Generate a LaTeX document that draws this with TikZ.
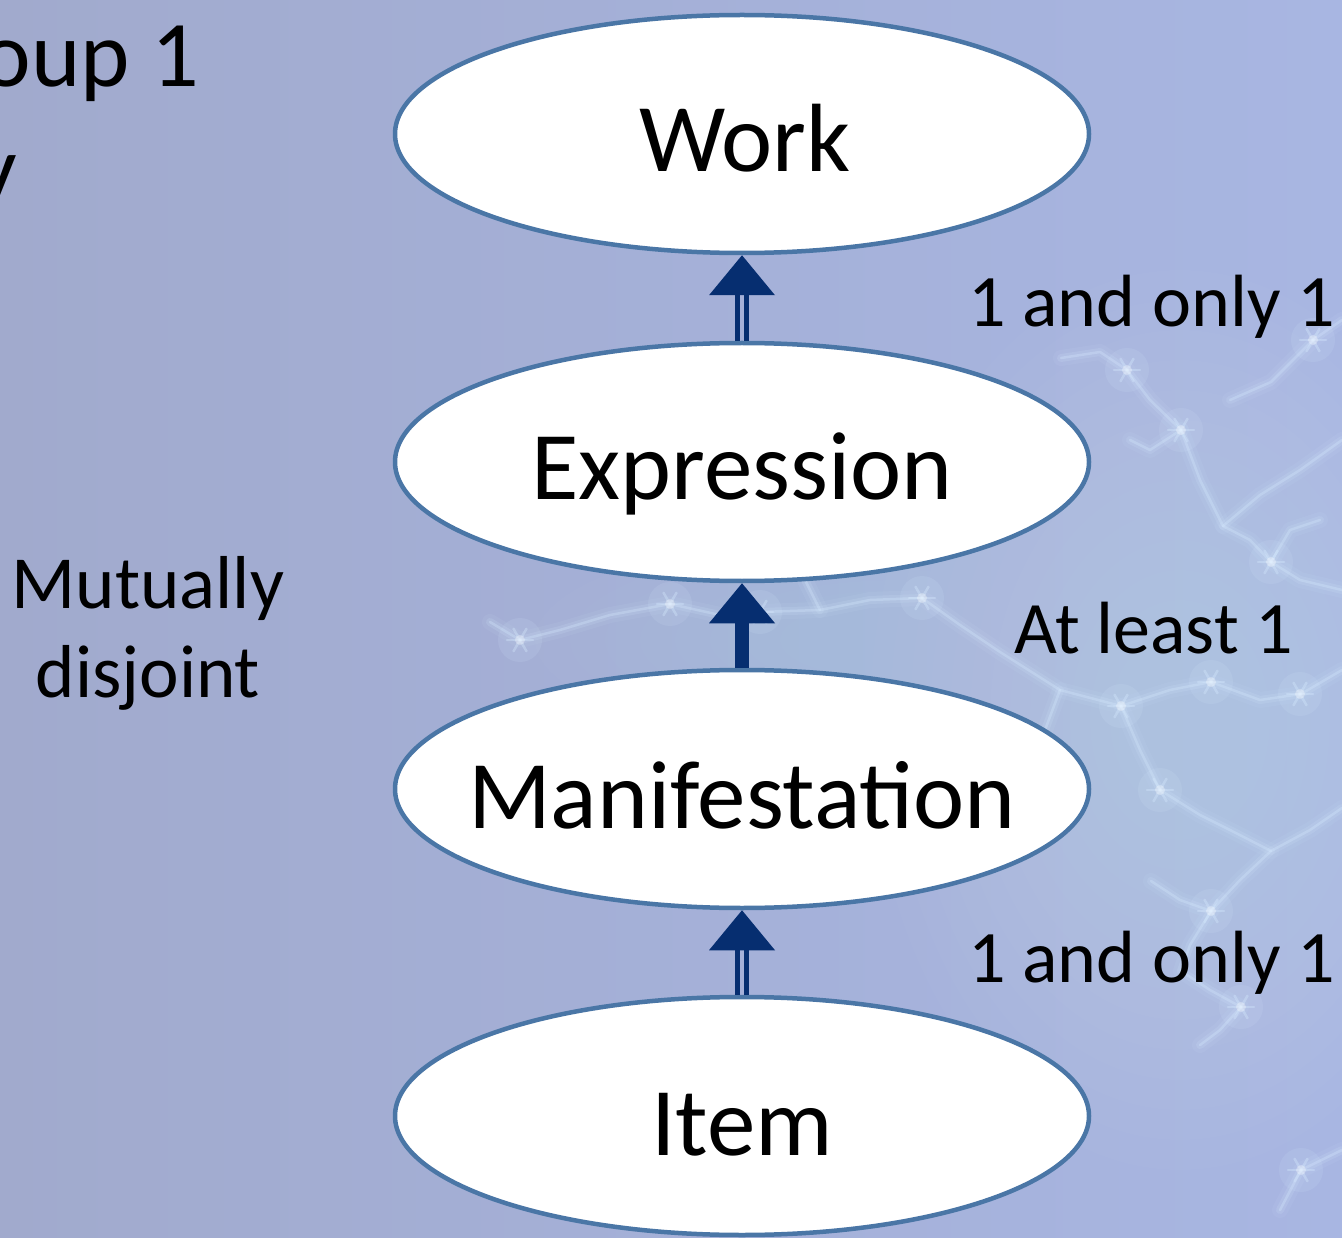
\documentclass[tikz,border=0pt]{standalone}
\usepackage{fontspec}
\setmainfont{Carlito}
\definecolor{bgA}{RGB}{161,170,205}
\definecolor{bgB}{RGB}{168,182,226}
\definecolor{edgeblue}{RGB}{74,118,166}
\definecolor{navy}{RGB}{6,46,112}
\definecolor{frost}{RGB}{215,235,255}
\usetikzlibrary{shapes.geometric}
\tikzset{
  entity/.style={draw=edgeblue, line width=4.5pt, fill=white, ellipse, minimum width=694pt, minimum height=238pt, inner sep=0pt},
  etext/.style={font=\fontsize{97}{116}\selectfont, anchor=base},
  lbl/.style={font=\fontsize{74}{89}\selectfont, anchor=base west, inner sep=0pt},
  branchA/.style={draw=frost, line width=16pt, opacity=0.07, line cap=round, line join=round},
  branchB/.style={draw=frost, line width=8pt, opacity=0.14, line cap=round, line join=round},
  branchC/.style={draw=frost, line width=2.5pt, opacity=0.30, line cap=round, line join=round},
  headtri/.style={fill=navy, draw=none},
  shaft/.style={fill=navy, draw=none}
}
\begin{document}
\begin{tikzpicture}[x=1pt,y=-1pt]
\useasboundingbox (0,0) rectangle (1342,1238);
\clip (0,0) rectangle (1342,1238);
% background
\shade[left color=bgA, right color=bgB] (0,0) rectangle (1342,1238);
\foreach \k in {1,...,14}{
  \fill[frost, opacity=0.022] (1180,720) ellipse ({330-20*\k} and {480-30*\k});
}
\foreach \k in {1,...,10}{
  \fill[frost, opacity=0.018] (900,640) ellipse ({400-35*\k} and {120-10*\k});
}
% fractal-like frost branches
\foreach \s in {branchA,branchB,branchC}{
  \draw[\s] (1061,358) -- (1100,352) -- (1127,370) -- (1150,400) -- (1181,430) -- (1200,480) -- (1223,526) -- (1250,540) -- (1271,562) -- (1300,580) -- (1342,590);
  \draw[\s] (490,622) -- (520,640) -- (560,630) -- (610,615) -- (670,604) -- (720,615) -- (760,612) -- (820,610) -- (870,600) -- (922,598) -- (960,625) -- (1000,652) -- (1060,690) -- (1121,706) -- (1170,690) -- (1211,682) -- (1260,700) -- (1301,694) -- (1342,670);
  \draw[\s] (1151,881) -- (1180,900) -- (1211,911) -- (1240,880) -- (1271,851) -- (1310,830) -- (1342,808);
  \draw[\s] (1211,911) -- (1190,945) -- (1181,971) -- (1210,990) -- (1241,1007) -- (1220,1030) -- (1200,1045);
  \draw[\s] (1230,400) -- (1271,382) -- (1313,340) -- (1342,320);
  \draw[\s] (1223,526) -- (1260,495) -- (1300,470) -- (1342,440);
  \draw[\s] (1121,706) -- (1140,750) -- (1160,790) -- (1200,815) -- (1230,830) -- (1271,851);
  \draw[\s] (1280,1210) -- (1301,1170) -- (1342,1150);
  \draw[\s] (820,610) -- (805,580) -- (830,550);
  \draw[\s] (1060,690) -- (1045,730) -- (1040,760) -- (1000,790);
  \draw[\s] (1181,430) -- (1150,450) -- (1130,440);
  \draw[\s] (1271,562) -- (1290,530) -- (1320,520);
}
\foreach \px/\py in {1127/370,1181/430,1271/562,670/604,922/598,1121/706,1211/682,1211/911,1241/1007,1313/340,1301/1170,520/640,1160/790,760/612,1300/694}{
  \begin{scope}[shift={(\px,\py)}]
    \fill[frost, opacity=0.12] (0,0) circle (22);
    \foreach \a in {0,60,120}{
      \draw[frost, line width=2.5pt, opacity=0.35, line cap=round] (\a:13) -- (\a+180:13);
    }
    \fill[white, opacity=0.30] (0,0) circle (5);
  \end{scope}
}
% title (partly outside the picture)
\node[font=\fontsize{94}{115}\selectfont, anchor=base east, inner sep=0pt] (title1) at (199,87) {Group 1};
\node[font=\fontsize{94}{115}\selectfont, anchor=base east, inner sep=0pt] (title2) at (17,201) {Entity};
% entities
\node[entity] (work) at (742,134) {};
\node[entity] (expr) at (742,462) {};
\node[entity] (mani) at (742,789) {};
\node[entity] (item) at (742,1116) {};
\node[etext] (workt) at (745,172) {Work};
\node[etext] (exprt) at (742,500) {Expression};
\node[etext] (manit) at (742,828) {Manifestation};
\node[etext] (itemt) at (742,1155) {Item};
% arrows
\coordinate (a1) at (work.south);
\fill[headtri] (a1) -- ++(-33,40) -- ++(66,0) -- cycle;
\fill[shaft] ([xshift=-7.5pt,yshift=-39pt]a1) rectangle ([xshift=-2.5pt]expr.north);
\fill[shaft] ([xshift=2pt,yshift=-39pt]a1) rectangle ([xshift=7pt]expr.north);
\coordinate (a2) at (expr.south);
\fill[headtri] (a2) -- ++(-33,40) -- ++(66,0) -- cycle;
\fill[shaft] ([xshift=-7pt,yshift=-39pt]a2) rectangle ([xshift=7pt]mani.north);
\coordinate (a3) at (mani.south);
\fill[headtri] (a3) -- ++(-33,40) -- ++(66,0) -- cycle;
\fill[shaft] ([xshift=-7.5pt,yshift=-39pt]a3) rectangle ([xshift=-2.5pt]item.north);
\fill[shaft] ([xshift=2pt,yshift=-39pt]a3) rectangle ([xshift=7pt]item.north);
% labels
\node[lbl] (l1) at (968,327) {1 and only 1};
\node[lbl] (l2) at (1014,653) {At least 1};
\node[lbl] (l3) at (968,982) {1 and only 1};
\node[font=\fontsize{75}{89}\selectfont, align=center, anchor=base, inner sep=0pt] (mut) at (148,697) {Mutually\\disjoint};
\end{tikzpicture}
\end{document}
